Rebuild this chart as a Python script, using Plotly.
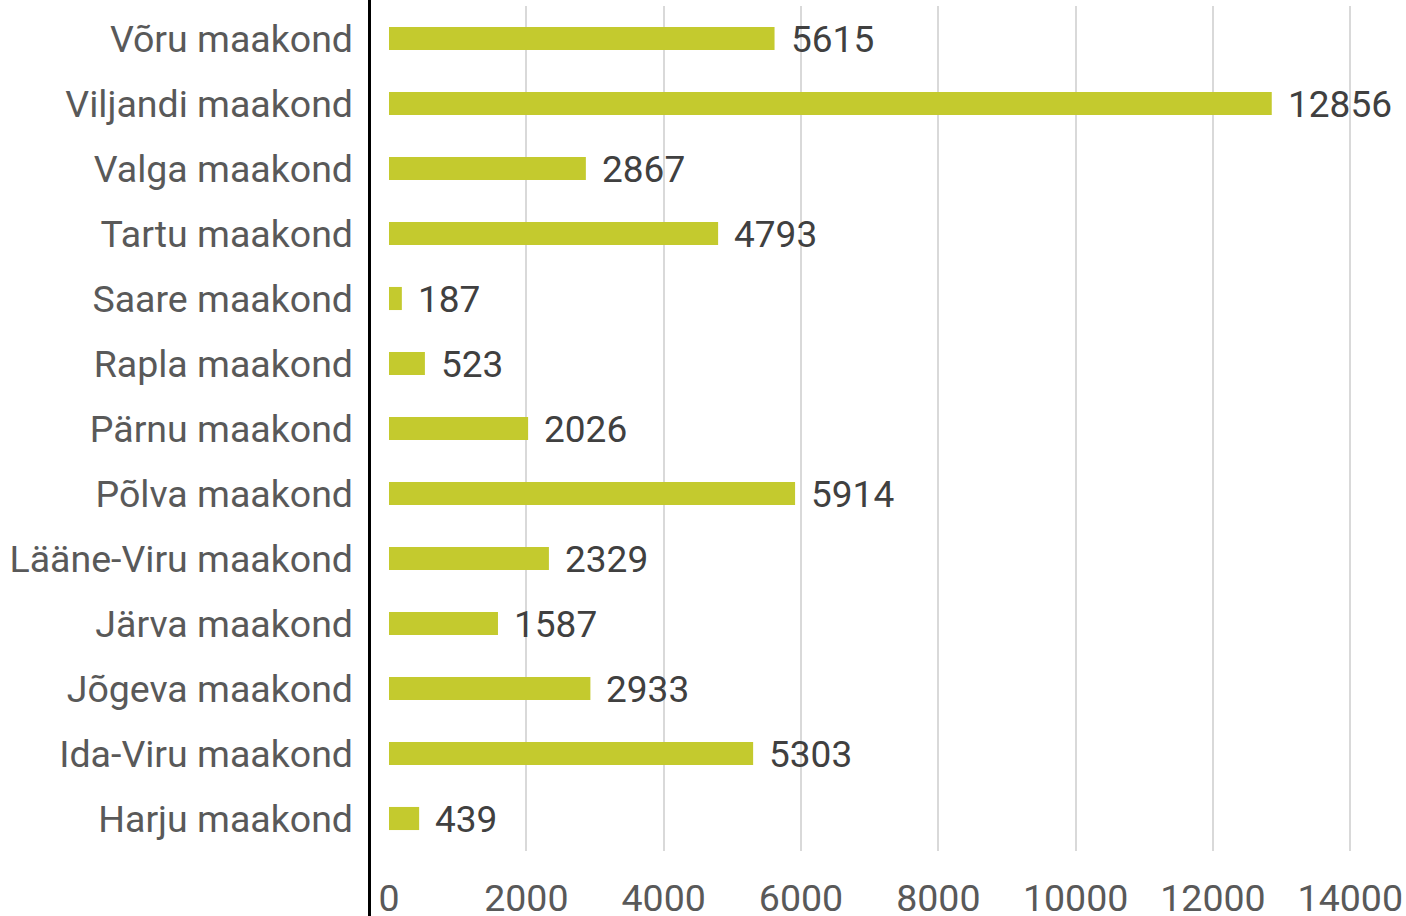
import plotly.graph_objects as go

counties = ["Harju maakond", "Ida-Viru maakond", "Jõgeva maakond", "Järva maakond",
            "Lääne-Viru maakond", "Põlva maakond", "Pärnu maakond", "Rapla maakond",
            "Saare maakond", "Tartu maakond", "Valga maakond", "Viljandi maakond",
            "Võru maakond"]
values = [439, 5303, 2933, 1587, 2329, 5914, 2026, 523, 187, 4793, 2867, 12856, 5615]
x_ticks = [0, 2000, 4000, 6000, 8000, 10000, 12000, 14000]

W, H = 1406, 916
ml, mr, mt, mb = 389, 0, 6, 65
plot_w = W - ml - mr
plot_h = H - mt - mb
px_per_unit = (1350.3 - 389) / 14000
xmax = plot_w / px_per_unit

fig = go.Figure(go.Bar(
    x=values, y=counties, orientation="h",
    marker=dict(color="#C4CA2E", line=dict(width=0)),
    width=0.355, hoverinfo="skip",
))

for c, v in zip(counties, values):
    fig.add_annotation(x=v, y=c, text=str(v), showarrow=False, xanchor="left",
                       yanchor="middle", xshift=14, yshift=-1,
                       font=dict(family="Roboto", size=37, color="#404040"))

fig.add_shape(type="line", xref="paper", yref="paper",
              x0=-19.5 / plot_w, x1=-19.5 / plot_w,
              y0=-mb / plot_h - 0.01, y1=1 + mt / plot_h + 0.01,
              line=dict(color="#000000", width=3), layer="above")

fig.update_layout(
    width=W, height=H,
    margin=dict(l=ml, r=mr, t=mt, b=mb, pad=0, autoexpand=False),
    plot_bgcolor="white", paper_bgcolor="white",
    showlegend=False,
    font=dict(family="Roboto", size=37, color="#595959"),
    xaxis=dict(range=[0, xmax], tickvals=x_ticks, ticktext=[str(t) for t in x_ticks],
               showgrid=True, gridcolor="#D9D9D9", gridwidth=2,
               zeroline=False, showline=False, ticks="", automargin=False,
               ticklabelstandoff=21, fixedrange=True,
               tickfont=dict(family="Roboto", size=37.5, color="#595959")),
    yaxis=dict(categoryorder="array", categoryarray=counties,
               showgrid=False, zeroline=False, showline=False, ticks="", automargin=False,
               ticklabelstandoff=35, fixedrange=True, range=[-0.5, 12.5],
               tickfont=dict(family="Roboto", size=37.5, color="#595959")),
)

fig.write_html("out.html", config={"displayModeBar": False},
               post_script="document.body.style.margin='0';document.body.style.overflow='hidden';")
